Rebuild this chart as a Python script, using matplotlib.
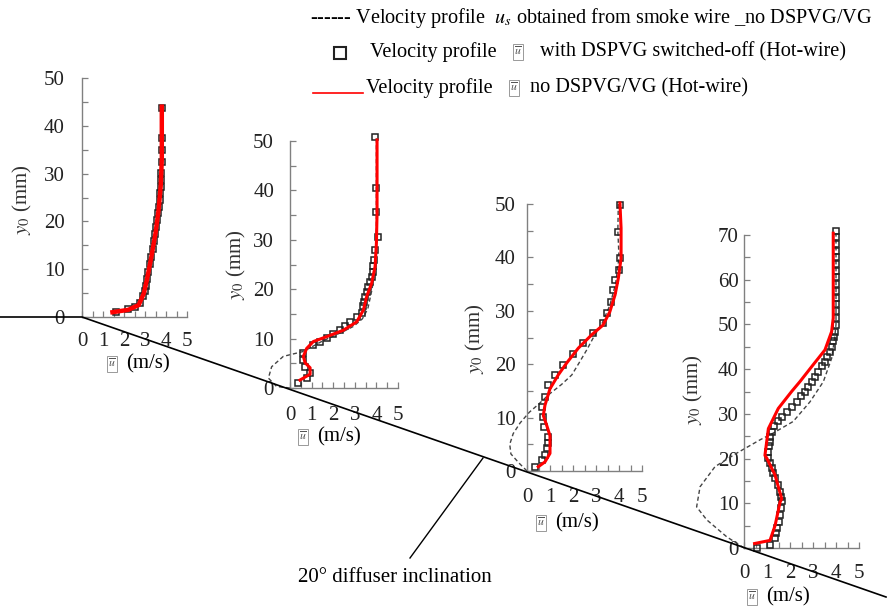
import matplotlib
matplotlib.use("Agg")
import matplotlib.pyplot as plt
from matplotlib.lines import Line2D
from matplotlib.ticker import MultipleLocator

plt.rcParams['font.family'] = ['Liberation Serif', 'DejaVu Serif']
plt.rcParams['mathtext.fontset'] = 'stix'

# station 1 (upstream)
sq1_u = [1.6, 2.2, 2.5, 2.76, 2.92, 3.0, 3.05, 3.1, 3.16, 3.22, 3.3, 3.36, 3.42, 3.48,
         3.53, 3.57, 3.62, 3.66, 3.7, 3.73, 3.75, 3.77, 3.78, 3.79, 3.8, 3.8, 3.8]
sq1_y = [1.1, 1.6, 2.0, 2.9, 4.3, 5.5, 6.5, 8.0, 9.5, 11.0, 12.6, 14.2, 15.8, 17.4,
         18.9, 20.3, 21.7, 23.1, 24.5, 25.9, 27.3, 28.7, 30.1, 32.5, 34.9, 37.4, 43.7]
red1_u = [1.45, 2.2, 2.7, 2.95, 3.1, 3.3, 3.5, 3.65, 3.75, 3.8, 3.8]
red1_y = [1.0, 1.5, 2.5, 5.0, 8.0, 12.5, 17.5, 22.5, 27.5, 33.0, 44.0]

# station 2
sq2_u = [0.39, 0.77, 0.93, 0.69, 0.62, 0.62, 1.08, 1.4, 1.7, 2.0, 2.31, 2.55, 2.78, 3.1, 3.32,
         3.40, 3.43, 3.47, 3.55, 3.63, 3.7, 3.78, 3.82, 3.85, 3.9, 3.92, 4.07, 3.97, 4.0, 3.94]
sq2_y = [0.95, 2.0, 3.0, 4.3, 5.7, 7.0, 8.7, 9.4, 10.1, 10.9, 11.7, 12.6, 13.4, 14.3, 15.1,
         16.5, 17.5, 18.5, 19.5, 20.5, 21.5, 22.5, 23.5, 24.6, 26.0, 27.9, 30.6, 35.7, 40.4, 50.9]
red2_u = [0.46, 0.93, 0.93, 0.70, 0.62, 0.77, 1.08, 1.70, 2.47, 3.09, 3.40, 3.55, 3.78, 3.94, 4.0, 4.03, 4.03]
red2_y = [1.6, 2.8, 4.1, 5.1, 6.4, 8.0, 9.4, 10.4, 11.7, 13.4, 15.8, 18.5, 21.2, 24.6, 29.3, 35.3, 50.2]
smk2_u = [0, -0.62, -1.0, -0.85, -0.31, 0.62, 1.5, 2.5, 2.95, 3.35, 3.6, 3.8, 3.95, 4.0, 4.0, 4.0]
smk2_y = [0, 0.3, 2.0, 4.3, 6.4, 7.4, 9.5, 11.5, 12.5, 14.0, 16.0, 20.0, 25.0, 30.0, 40.0, 51.0]

# station 3
sq3_u = [0.35, 0.64, 0.78, 0.85, 0.9, 0.9, 0.75, 0.71, 0.64, 0.78, 0.9, 1.22, 1.58, 2.01,
         2.45, 2.88, 3.3, 3.46, 3.65, 3.75, 3.83, 4.0, 4.04, 3.97, 4.04]
sq3_y = [0.8, 2.1, 3.0, 4.3, 5.2, 6.4, 8.3, 10.2, 12.0, 13.9, 16.1, 18.0, 19.9, 22.0,
         23.9, 25.8, 27.7, 29.5, 31.7, 33.9, 35.8, 37.6, 39.8, 44.8, 49.8]
red3_u = [0.49, 0.78, 1.0, 1.0, 0.86, 0.71, 0.78, 1.0, 1.36, 1.72, 2.23, 2.81, 3.3, 3.6,
          3.83, 3.97, 4.09, 4.09, 4.04]
red3_y = [0.8, 1.7, 3.3, 6.6, 8.5, 10.4, 12.3, 15.4, 18.0, 20.2, 23.0, 25.5, 27.3, 29.8,
          33.0, 36.1, 39.8, 45.5, 50.2]
smk3_u = [0, -0.35, -0.7, -0.75, -0.6, -0.3, 0.1, 0.5, 1.0, 1.5, 1.95, 2.3, 2.6, 2.95,
          3.25, 3.6, 3.85, 4.0, 3.95, 3.97]
smk3_y = [0, 1.5, 3.2, 5.0, 7.0, 9.0, 11.0, 12.5, 14.5, 16.2, 18.0, 20.5, 22.7, 25.5,
          27.5, 31.0, 35.0, 40.0, 45.0, 50.0]

# station 4 (downstream)
sq4_u = [0.55, 1.13, 1.35, 1.38, 1.42, 1.5, 1.57, 1.62, 1.64, 1.62, 1.57, 1.46, 1.35, 1.27,
         1.2, 1.12, 1.06, 1.06, 1.1, 1.13, 1.15, 1.2, 1.32, 1.49, 1.67, 1.86, 2.07, 2.29,
         2.47, 2.65, 2.8, 2.94, 3.08, 3.23, 3.38, 3.52, 3.63, 3.74, 3.82, 3.88, 3.93, 3.97,
         4.0, 4.01, 4.02, 4.02, 4.02, 4.02, 4.02, 4.02, 4.02, 4.02, 4.02, 4.02, 4.02, 4.02, 4.02]
sq4_y = [0.1, 0.7, 2.2, 3.3, 4.4, 5.9, 7.4, 8.9, 10.4, 11.5, 12.6, 14.1, 15.6, 16.7,
         17.8, 19.0, 20.1, 21.5, 22.7, 23.8, 24.9, 26.0, 27.2, 28.3, 29.4, 30.5, 31.6, 32.7,
         33.9, 35.0, 36.1, 37.2, 38.3, 39.4, 40.6, 41.7, 42.8, 43.9, 45.0, 46.2, 47.3, 48.4,
         49.9, 51.5, 53.0, 54.5, 56.0, 57.5, 59.0, 60.5, 62.0, 63.5, 65.0, 66.5, 68.0, 69.5, 70.8]
red4_u = [0.46, 1.13, 1.35, 1.57, 1.64, 1.35, 0.99, 0.91, 1.06, 1.49, 2.07, 2.43, 3.01,
          3.52, 3.81, 3.88, 3.88, 3.88]
red4_y = [1.0, 1.7, 5.0, 10.3, 11.0, 16.3, 20.1, 20.7, 26.7, 31.2, 35.0, 37.2, 41.0,
          44.3, 48.4, 51.4, 57.3, 70.4]
smk4_u = [0, -0.75, -1.62, -2.06, -1.91, -1.26, -0.32, 0.7, 1.27, 2.14, 2.87, 3.45, 3.81, 3.94, 4.0, 4.0]
smk4_y = [0, 2.5, 6.3, 9.2, 13.7, 18.2, 21.2, 24.2, 25.7, 28.3, 32.7, 37.2, 42.4, 46.9, 50.0, 70.0]

W, H = 889, 610
fig = plt.figure(figsize=(W / 100, H / 100), dpi=100)
FS = 15


def fx(x):
    return x / W


def fy(y):
    return 1 - y / H


def boxed_u(x, y, size=8.5):
    # the small framed u-bar glyph used in the source figure
    fig.text(fx(x), fy(y), r"$\overline{u}$", fontsize=size, color='#555555',
             ha='center', va='center',
             bbox=dict(boxstyle='square,pad=0.12', fc='white', ec='#999999', lw=0.7))


# (left, right, bottom, top) pixels, ymax, ytick pad, xtick pad
panels = [
    dict(box=(82, 187, 317, 78), ymax=50, ypad=12.5, xpad=10.5,
         sq=(sq1_u, sq1_y), red=(red1_u, red1_y), smk=None, lw=3.2,
         ylab=(22, 200), xlab=(112, 364)),
    dict(box=(290, 398, 388, 141), ymax=50, ypad=11.5, xpad=13,
         sq=(sq2_u, sq2_y), red=(red2_u, red2_y), smk=(smk2_u, smk2_y), lw=2.2,
         ylab=(236, 265), xlab=(303, 437)),
    dict(box=(527, 642, 471, 204), ymax=50, ypad=8, xpad=12.5,
         sq=(sq3_u, sq3_y), red=(red3_u, red3_y), smk=(smk3_u, smk3_y), lw=2.2,
         ylab=(475, 339), xlab=(541, 523)),
    dict(box=(744, 859, 548, 235), ymax=70, ypad=4, xpad=11.5,
         sq=(sq4_u, sq4_y), red=(red4_u, red4_y), smk=(smk4_u, smk4_y), lw=2.2,
         ylab=(693, 390), xlab=(752, 597)),
]

for p in panels:
    l, r, b, t = p['box']
    ax = fig.add_axes([fx(l), fy(b), (r - l) / W, (b - t) / H])
    ax.set_facecolor('none')
    if p['smk'] is not None:
        ax.plot(p['smk'][0], p['smk'][1], color='#444444', lw=1.0,
                dashes=(3, 2), clip_on=False, zorder=2)
    ax.plot(p['sq'][0], p['sq'][1], ls='none', marker='s', ms=5, mfc='none',
            mec='#222222', mew=1.1, clip_on=False, zorder=3)
    ax.plot(p['red'][0], p['red'][1], color='#ff0000', lw=p['lw'],
            clip_on=False, zorder=4)
    ax.set_xlim(0, 5)
    ax.set_ylim(0, p['ymax'])
    ax.xaxis.set_major_locator(MultipleLocator(1))
    ax.xaxis.set_minor_locator(MultipleLocator(0.5))
    ax.yaxis.set_major_locator(MultipleLocator(10))
    ax.yaxis.set_minor_locator(MultipleLocator(5))
    for s in ['top', 'right']:
        ax.spines[s].set_visible(False)
    for s in ['left', 'bottom']:
        ax.spines[s].set_color('#808080')
        ax.spines[s].set_linewidth(1.0)
    ax.tick_params(which='both', direction='in', color='#808080', length=4, width=0.9,
                   labelsize=FS, labelcolor='#222222')
    ax.tick_params(axis='y', pad=p['ypad'])
    ax.tick_params(axis='x', pad=p['xpad'])
    fig.text(fx(p['ylab'][0]), fy(p['ylab'][1]), r"$y_0$ (mm)", rotation=90,
             fontsize=FS, color='#333333', ha='center', va='center')
    bx, by = p['xlab']
    boxed_u(bx, by)
    fig.text(fx(bx + 14), fy(by), "(m/s)", fontsize=FS, ha='left', va='center')

# diffuser wall
fig.add_artist(Line2D([fx(0), fx(82), fx(886)], [fy(317), fy(317), fy(597)],
                      transform=fig.transFigure, color='black', lw=1.2))
fig.add_artist(Line2D([fx(410), fx(483)], [fy(558), fy(458)],
                      transform=fig.transFigure, color='black', lw=1.0))
fig.text(fx(395), fy(577), "20° diffuser inclination", fontsize=FS, ha='center', va='center')

# legend
LFS = 14.6
fig.text(fx(310), fy(18), r"------ Velocity profile  $u_s$ obtained from smoke wire _no DSPVG/VG",
         fontsize=LFS, ha='left', va='center')
fig.add_artist(Line2D([fx(340)], [fy(53)], transform=fig.transFigure, marker='s', ms=9,
                      mfc='none', mec='#222222', mew=1.5, ls='none'))
fig.text(fx(370), fy(52), "Velocity profile", fontsize=LFS, ha='left', va='center')
boxed_u(518, 52)
fig.text(fx(540), fy(52), "with DSPVG switched-off (Hot-wire)", fontsize=LFS, ha='left', va='center')
fig.add_artist(Line2D([fx(313), fx(363)], [fy(93), fy(93)], transform=fig.transFigure,
                      color='#ff0000', lw=1.2))
fig.text(fx(366), fy(88), "Velocity profile", fontsize=LFS, ha='left', va='center')
boxed_u(514, 88)
fig.text(fx(530), fy(88), "no DSPVG/VG (Hot-wire)", fontsize=LFS, ha='left', va='center')

fig.savefig("out.png", dpi=100)
